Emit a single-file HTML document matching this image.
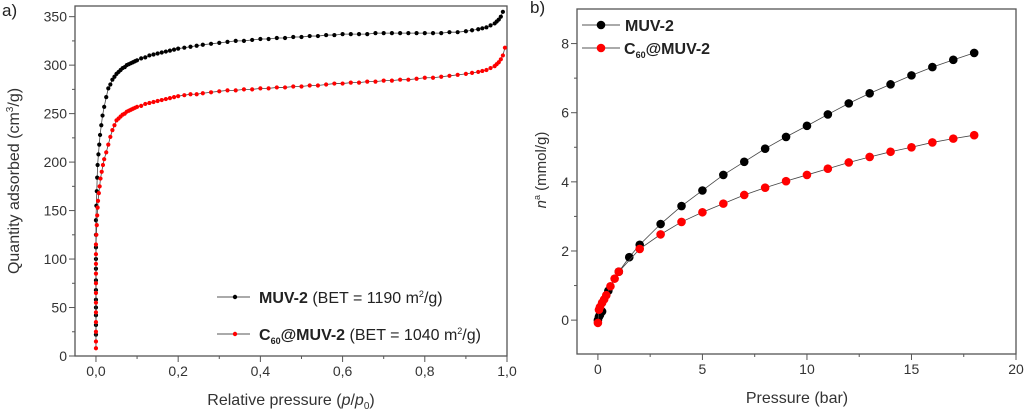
<!DOCTYPE html>
<html><head><meta charset="utf-8"><style>
html,body{margin:0;padding:0;background:#fff;}
svg{display:block;font-family:"Liberation Sans",sans-serif;}
</style></head><body>
<svg id="fig" width="1024" height="412" viewBox="0 0 1024 412">
<text x="2" y="16" font-size="17" fill="#222">a)</text>
<text x="530" y="13" font-size="17" fill="#222">b)</text>
<g id="pa"></g>
<g id="pb"></g>
</svg>
<script>
// Panel a data
const aBlackX=[0,0,0,0,0,0,0,0,0,0,0,0,0.001,0.002,0.003,0.004,0.006,0.008,0.01,0.013,0.016,0.02,0.025,0.03,0.035,0.04,0.045,0.05,0.055,0.06,0.065,0.07,0.075,0.08,0.085,0.09,0.095,0.1,0.11,0.12,0.13,0.14,0.15,0.16,0.17,0.18,0.19,0.2,0.215,0.23,0.245,0.26,0.28,0.3,0.32,0.34,0.36,0.38,0.4,0.42,0.44,0.46,0.48,0.5,0.52,0.54,0.56,0.58,0.6,0.62,0.64,0.66,0.68,0.7,0.72,0.74,0.76,0.78,0.8,0.82,0.84,0.86,0.88,0.9,0.915,0.93,0.94,0.95,0.96,0.97,0.975,0.98,0.985,0.99];
const aBlackY=[22,32,42,50,58,68,78,90,100,112,125,140,155,170,184,197,208,218,228,238,248,257,267,276,280,285,288,291,293,295,297,298,300,301,302,303,304,305,307,308,310,311,312,313,314,315,316,317,318,319,320,321,322,323,324,325,325,326,327,327,328,328,329,329,330,330,331,331,332,332,332,332,333,333,333,333,333,333,333,333,333,334,334,335,336,337,338,339,341,343,345,347,350,355];
const aRedX=[0,0,0,0,0,0,0,0,0,0,0,0,0.001,0.002,0.003,0.004,0.005,0.007,0.009,0.011,0.014,0.017,0.02,0.025,0.03,0.035,0.04,0.045,0.05,0.055,0.06,0.065,0.07,0.075,0.08,0.085,0.09,0.095,0.1,0.11,0.12,0.13,0.14,0.15,0.16,0.17,0.18,0.19,0.2,0.215,0.23,0.245,0.26,0.28,0.3,0.32,0.34,0.36,0.38,0.4,0.42,0.44,0.46,0.48,0.5,0.52,0.54,0.56,0.58,0.6,0.62,0.64,0.66,0.68,0.7,0.72,0.74,0.76,0.78,0.8,0.82,0.84,0.86,0.88,0.9,0.915,0.93,0.94,0.95,0.96,0.97,0.975,0.98,0.985,0.99,0.995];
const aRedY=[8,15,25,35,45,55,65,75,85,95,105,115,125,135,145,153,160,168,175,183,190,197,203,210,218,226,233,238,243,245,247,249,250,252,253,254,255,256,257,258,260,261,262,263,264,265,266,267,268,269,270,270,271,272,273,274,274,275,275,276,276,277,277,278,278,279,279,280,281,281,282,282,283,283,284,284,285,285,286,287,287,288,289,290,291,292,293,294,295,297,299,301,303,306,310,318];
// Panel b data
const bBlackX=[0,0.05,0.1,0.2,0.5,1,1.5,2,3,4,5,6,7,8,9,10,11,12,13,14,15,16,17,18];
const bBlackY=[0,0.1,0.15,0.25,0.85,1.4,1.82,2.18,2.78,3.3,3.75,4.2,4.58,4.96,5.3,5.62,5.95,6.27,6.56,6.82,7.08,7.32,7.53,7.73];
const bRedX=[0,0.05,0.1,0.2,0.3,0.4,0.6,0.8,1,2,3,4,5,6,7,8,9,10,11,12,13,14,15,16,17,18];
const bRedY=[-0.08,0.3,0.38,0.5,0.6,0.72,0.98,1.2,1.4,2.06,2.48,2.84,3.12,3.37,3.62,3.83,4.02,4.2,4.38,4.56,4.72,4.87,5.0,5.14,5.25,5.35];
const aXTicks=[0,0.2,0.4,0.6,0.8,1.0];
const aXLabels=["0,0","0,2","0,4","0,6","0,8","1,0"];
const aYTicks=[0,50,100,150,200,250,300,350];
const bXTicks=[0,5,10,15,20];
const bYTicks=[0,2,4,6,8];

const NS="http://www.w3.org/2000/svg";
function mk(p,tag,at,txt){const e=document.createElementNS(NS,tag);for(const k in at)e.setAttribute(k,at[k]);if(txt!==undefined)e.textContent=txt;p.appendChild(e);return e;}

function panel(g,o){
  const sx=v=>o.L+(v-o.x0)/(o.x1-o.x0)*(o.R-o.L);
  const sy=v=>o.B-(v-o.y0)/(o.y1-o.y0)*(o.B-o.T);
  const f=mk(g,'rect',{x:o.L,y:o.T,width:o.R-o.L,height:o.B-o.T,fill:'none',stroke:'#555','stroke-width':1.3});
  
  
  o.xt.forEach((v,i)=>{
    const x=sx(v);
    const t=mk(g,'line',{x1:x,x2:x,y1:o.B,y2:o.B+6,stroke:'#555'});
    
    
    const l=mk(g,'text',{x:x,y:o.B+20,'font-size':14,fill:'#333','text-anchor':'middle'},o.xl?o.xl[i]:String(v));
    
    
    if(i<o.xt.length-1){const xm=sx((v+o.xt[i+1])/2);mk(g,'line',{x1:xm,x2:xm,y1:o.B,y2:o.B+3,stroke:'#555'});}
  });
  o.yt.forEach((v,i)=>{
    const y=sy(v);
    const t=mk(g,'line',{x1:o.L-6,x2:o.L,y1:y,y2:y,stroke:'#555'});
    
    
    const l=mk(g,'text',{x:o.L-8,y:y+5,'font-size':14,fill:'#333','text-anchor':'end'},String(v));
    
    
    const step=o.yt[1]-o.yt[0];
    [v-step/2,v+step/2].forEach(m=>{if(m>o.y0&&m<o.y1&&(m<v||i==o.yt.length-1)){const ym=sy(m);mk(g,'line',{x1:o.L-3,x2:o.L,y1:ym,y2:ym,stroke:'#555'});}});
  });
  o.series.forEach(s=>{
    const n=Math.min(s.x.length,s.y.length);
    const pts=s.x.slice(0,n).map((v,i)=>sx(v)+','+sy(s.y[i])).join(' ');
    const pl=mk(g,'polyline',{points:pts,fill:'none',stroke:'#444','stroke-width':0.8});
    
    
    s.x.slice(0,n).forEach((v,i)=>{
      const c=mk(g,'circle',{cx:sx(v),cy:sy(s.y[i]),r:o.r,fill:s.c});
      
      
    });
  });
}
const ga=document.getElementById('pa'), gb=document.getElementById('pb');
panel(ga,{L:75,R:507,T:6,B:356,x0:-0.051,x1:1.0,y0:0,y1:361,xt:aXTicks,xl:aXLabels,yt:aYTicks,r:2.1,
  series:[{name:'muv2',x:aBlackX,y:aBlackY,c:'#000'},{name:'c60-muv2',x:aRedX,y:aRedY,c:'#f00'}]});
panel(gb,{L:577,R:1016,T:9,B:354,x0:-1,x1:20,y0:-0.98,y1:9.0,xt:bXTicks,yt:bYTicks,r:4.3,
  series:[{name:'muv2',x:bBlackX,y:bBlackY,c:'#000'},{name:'c60-muv2',x:bRedX,y:bRedY,c:'#f00'}]});
</script>
<script>
const fig=document.getElementById('fig');
fig.insertAdjacentHTML('beforeend',`
<text transform="translate(19,181) rotate(-90)" font-size="16" fill="#333" text-anchor="middle">Quantity adsorbed (cm<tspan font-size="10" dy="-6">3</tspan><tspan dy="6">/g)</tspan></text>
<text x="291" y="405" font-size="16" fill="#333" text-anchor="middle">Relative pressure (<tspan font-style="italic">p</tspan>/<tspan font-style="italic">p</tspan><tspan font-size="10" dy="4">0</tspan><tspan dy="-4">)</tspan></text>
<g>
<line x1="217" x2="250" y1="297" y2="297" stroke="#555"/><circle cx="235" cy="297" r="2.2" fill="#000"/>
<text x="259" y="303" font-size="16" fill="#222"><tspan font-weight="bold">MUV-2</tspan> (BET = 1190 m<tspan font-size="9" dy="-6">2</tspan><tspan dy="6">/g)</tspan></text>
<line x1="217" x2="250" y1="334" y2="334" stroke="#555"/><circle cx="235" cy="334" r="2.2" fill="#f00"/>
<text x="259" y="340" font-size="16" fill="#222"><tspan font-weight="bold">C</tspan><tspan font-weight="bold" font-size="9" dy="4">60</tspan><tspan font-weight="bold" dy="-4">@MUV-2</tspan> (BET = 1040 m<tspan font-size="9" dy="-6">2</tspan><tspan dy="6">/g)</tspan></text>
</g>
<text transform="translate(546,170) rotate(-90)" font-size="15" fill="#333" text-anchor="middle"><tspan font-style="italic">n</tspan><tspan font-size="9" dy="-6">a</tspan><tspan dy="6"> (mmol/g)</tspan></text>
<text x="797" y="403" font-size="16" fill="#333" text-anchor="middle">Pressure (bar)</text>
<g>
<line x1="582" x2="620" y1="25" y2="25" stroke="#555"/><circle cx="601" cy="25" r="4.3" fill="#000"/>
<text x="625" y="31" font-size="16" font-weight="bold" fill="#222">MUV-2</text>
<line x1="582" x2="620" y1="48" y2="48" stroke="#555"/><circle cx="601" cy="48" r="4.3" fill="#f00"/>
<text x="624" y="54" font-size="16" font-weight="bold" fill="#222">C<tspan font-size="9" dy="4">60</tspan><tspan dy="-4">@MUV-2</tspan></text>
</g>`);
</script>
</body></html>
